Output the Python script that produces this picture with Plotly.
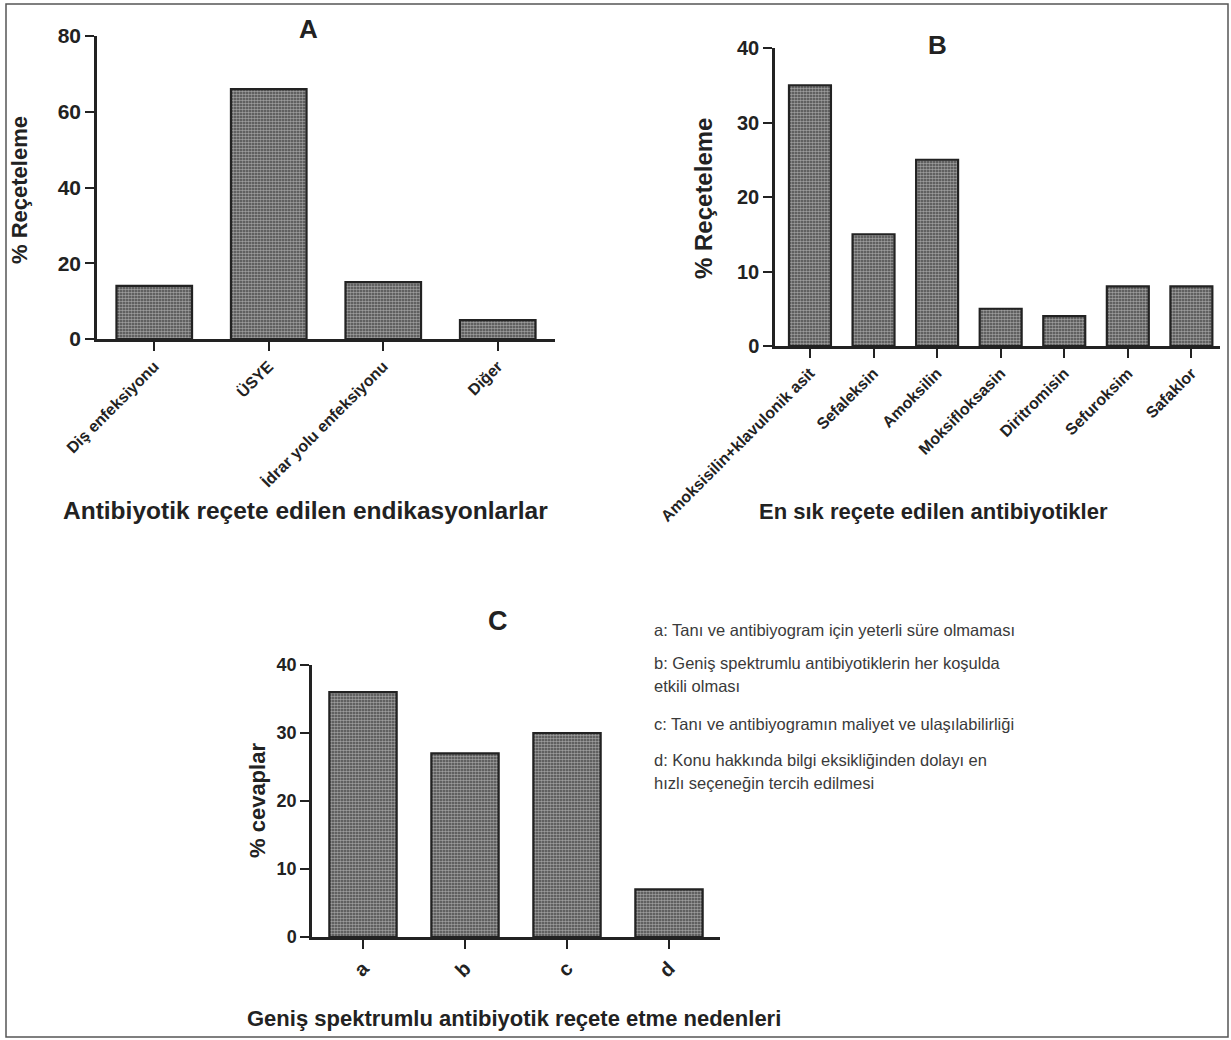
import plotly.graph_objects as go

W, H = 1231, 1040

# ---------------- data ----------------
cat_a = ["Diş enfeksiyonu", "ÜSYE", "İdrar yolu enfeksiyonu", "Diğer"]
val_a = [14, 66, 15, 5]
ticks_a = [0, 20, 40, 60, 80]

cat_b = ["Amoksisilin+klavulonik asit", "Sefaleksin", "Amoksilin",
         "Moksifloksasin", "Diritromisin", "Sefuroksim", "Safaklor"]
val_b = [35, 15, 25, 5, 4, 8, 8]
ticks_b = [0, 10, 20, 30, 40]

cat_c = ["a", "b", "c", "d"]
val_c = [36, 27, 30, 7]
ticks_c = [0, 10, 20, 30, 40]

legend_lines = [
    "a: Tanı ve antibiyogram için yeterli süre olmaması",
    "b: Geniş spektrumlu antibiyotiklerin her koşulda",
    "etkili olması",
    "c: Tanı ve antibiyogramın maliyet ve ulaşılabilirliği",
    "d: Konu hakkında bilgi eksikliğinden dolayı en",
    "hızlı seçeneğin tercih edilmesi",
]

FONT = "Liberation Sans, Arial, Helvetica, sans-serif"
INK = "#222222"


def px(x):
    return x / W


def py(y):
    return 1 - y / H


def bar(x, y, xa, ya):
    return go.Bar(
        x=x, y=y, xaxis=xa, yaxis=ya, width=0.66,
        marker=dict(
            color="#444444",
            line=dict(color=INK, width=2.2),
            pattern=dict(shape=".", size=3, solidity=0.6,
                         fgcolor="#f4f4f4", bgcolor="#444444"),
        ),
        showlegend=False, hoverinfo="x+y",
    )


fig = go.Figure()
fig.add_trace(bar(cat_a, val_a, "x", "y"))
fig.add_trace(bar(cat_b, val_b, "x2", "y2"))
fig.add_trace(bar(cat_c, val_c, "x3", "y3"))


def xax(domain, anchor, cats, size, rng=None):
    return dict(
        domain=domain, anchor=anchor, type="category", automargin=False,
        range=rng if rng else [-0.5, len(cats) - 0.5],
        showline=True, linewidth=2.5, linecolor=INK,
        ticks="outside", ticklen=9, tickwidth=2, tickcolor=INK,
        tickangle=-45, showgrid=False, zeroline=False,
        tickfont=dict(family=FONT, size=size, color=INK, weight="bold"),
    )


def yax(domain, anchor, rng, tv, size):
    return dict(
        domain=domain, anchor=anchor, range=rng, tickvals=tv, automargin=False,
        showline=True, linewidth=2.5, linecolor=INK,
        ticks="outside", ticklen=9, tickwidth=2, tickcolor=INK,
        showgrid=False, zeroline=False,
        tickfont=dict(family=FONT, size=size, color=INK, weight="bold"),
    )


fig.update_layout(
    width=W, height=H, margin=dict(l=0, r=0, t=0, b=0, autoexpand=False),
    paper_bgcolor="white", plot_bgcolor="white",
    bargap=0.34,
    xaxis=xax([px(97), px(555)], "y", cat_a, 16),
    yaxis=yax([py(339), py(36)], "x", [0, 80], ticks_a, 21),
    xaxis2=xax([px(775), px(1220)], "y2", cat_b, 16, [-0.55, 6.45]),
    yaxis2=yax([py(346), py(48)], "x2", [0, 40], ticks_b, 20),
    xaxis3=xax([px(312), px(720)], "y3", cat_c, 20),
    yaxis3=yax([py(937), py(665)], "x3", [0, 40], ticks_c, 18),
)

ann = []


def text(x, y, s, size, bold=True, angle=0, xanchor="center", color=INK):
    ann.append(dict(
        x=px(x), y=py(y), xref="paper", yref="paper", text=s,
        showarrow=False, textangle=angle, xanchor=xanchor, yanchor="middle",
        font=dict(family=FONT, size=size, color=color,
                  weight="bold" if bold else "normal"),
    ))


# panel letters
text(308, 29, "A", 26)
text(938, 45, "B", 26)
text(498, 621, "C", 27)

# y-axis titles
text(19, 190, "% Reçeteleme", 22, angle=-90)
text(703, 199, "% Reçeteleme", 24, angle=-90)
text(257, 801, "% cevaplar", 22, angle=-90)

# x-axis titles
text(305, 510, "Antibiyotik reçete edilen endikasyonlarlar", 24.5)
text(933, 511, "En sık reçete edilen antibiyotikler", 22)
text(514, 1018, "Geniş spektrumlu antibiyotik reçete etme nedenleri", 22)

# legend text for panel C
legend_y = [630, 663, 686, 724, 760, 783]
for s, yy in zip(legend_lines, legend_y):
    text(652, yy, s, 16.5, bold=False, xanchor="left", color="#3a3a3a")

fig.update_layout(annotations=ann)

# outer frame
fig.add_shape(type="rect", xref="paper", yref="paper",
              x0=px(6), x1=px(1228), y0=py(1037), y1=py(4),
              line=dict(color="#555555", width=1.5), fillcolor="rgba(0,0,0,0)")

fig.write_html("out.html",
               config={"displayModeBar": False},
               post_script="document.body.style.margin='0px';"
                           "document.body.style.overflow='hidden';")
